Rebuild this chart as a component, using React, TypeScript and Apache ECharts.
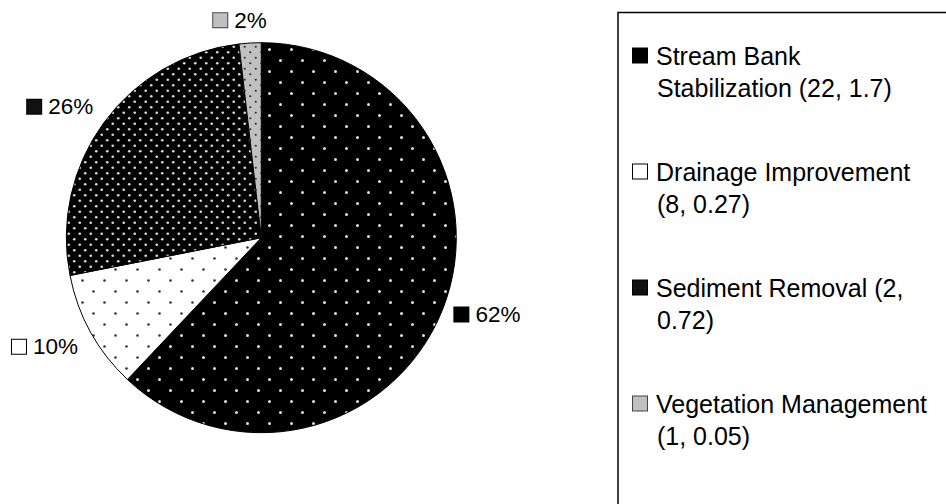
import React, { useEffect, useRef } from "react";
import * as echarts from "echarts";

// ---- data ----
const categories = [
  "Stream Bank Stabilization",
  "Drainage Improvement",
  "Sediment Removal",
  "Vegetation Management",
];
const projectCounts = [22, 8, 2, 1];
const costValues = [1.7, 0.27, 0.72, 0.05];

// ---- styles / layout ----
const FONT = '"Liberation Sans", Arial, Helvetica, sans-serif';
const CX = 261.3;
const CY = 237.7;
const R = 195;
const LABEL_GAP = 10;
const LABEL_NUDGE = [
  [2.7, -12.1],
  [-6.3, -6.9],
  [-8.2, 9.8],
  [-8.8, 0.2],
];
const ICON_FILL = ["#000000", "#ffffff", "#111111", "#c0c0c0"];
const ICON_BORDER = ["#000000", "#000000", "#000000", "#444444"];
const LEGEND_FONT_SIZE = 25;
const LEGEND_MAX_WIDTH = 280;

function makeTile(size: number, bg: string, dot: string, r: number) {
  const c = document.createElement("canvas");
  c.width = size;
  c.height = size;
  const ctx = c.getContext("2d")!;
  ctx.fillStyle = bg;
  ctx.fillRect(0, 0, size, size);
  ctx.fillStyle = dot;
  const q = size / 4;
  for (const [x, y] of [
    [q, q],
    [3 * q, 3 * q],
  ]) {
    ctx.beginPath();
    ctx.arc(x, y, r, 0, Math.PI * 2);
    ctx.fill();
  }
  return { image: c, repeat: "repeat", imageWidth: size, imageHeight: size };
}

function wrapText(text: string, maxWidth: number, font: string) {
  const ctx = document.createElement("canvas").getContext("2d")!;
  ctx.font = font;
  const words = text.split(" ");
  const lines: string[] = [];
  let cur = "";
  for (const w of words) {
    const test = cur ? cur + " " + w : w;
    if (cur && ctx.measureText(test).width > maxWidth) {
      lines.push(cur);
      cur = w;
    } else cur = test;
  }
  if (cur) lines.push(cur);
  return lines;
}

export default function App() {
  const ref = useRef<HTMLDivElement>(null);

  useEffect(() => {
    if (!ref.current) return;
    const chart = echarts.init(ref.current, undefined, { renderer: "svg" });

    const patterns = [
      makeTile(22, "#000000", "#e0e0e0", 1.5),
      makeTile(22, "#ffffff", "#333333", 1.3),
      makeTile(11, "#000000", "#d8d8d8", 1.35),
      makeTile(11, "#c0c0c0", "#333333", 1.1),
    ];

    const total = costValues.reduce((s, v) => s + v, 0);
    const midAngles: number[] = [];
    let acc = 0;
    costValues.forEach((v) => {
      midAngles.push(((acc + v / 2) / total) * Math.PI * 2);
      acc += v;
    });

    const legendTexts = categories.map(
      (c, i) => `${c} (${projectCounts[i]}, ${costValues[i]})`
    );
    const legendLines = legendTexts.map((t) =>
      wrapText(t, LEGEND_MAX_WIDTH, `${LEGEND_FONT_SIZE}px "Liberation Sans"`)
    );

    const iconRich: Record<string, any> = {};
    categories.forEach((_, i) => {
      iconRich["ic" + i] = {
        width: 14,
        height: 14,
        backgroundColor: ICON_FILL[i],
        borderColor: ICON_BORDER[i],
        borderWidth: 1,
      };
    });

    chart.setOption({
      animation: false,
      backgroundColor: "#ffffff",
      graphic: [
        {
          type: "rect",
          shape: { x: 618, y: 12.5, width: 400, height: 600 },
          style: { fill: "none", stroke: "#000", lineWidth: 1.5 },
          z: 0,
        },
      ],
      legend: {
        orient: "vertical",
        left: 628,
        top: 43,
        padding: 0,
        itemGap: 59,
        itemWidth: 0,
        itemHeight: 0,
        selectedMode: false,
        itemStyle: { color: "rgba(0,0,0,0)", borderWidth: 0 },
        data: categories,
        formatter: (name: string) => {
          const i = categories.indexOf(name);
          const lines = legendLines[i];
          let s = `{ic${i}|}{g|}{t|${lines[0]}}`;
          for (let k = 1; k < lines.length; k++) s += `\n{s|}{t|${lines[k]}}`;
          return s;
        },
        textStyle: {
          fontFamily: FONT,
          color: "#000",
          rich: {
            ...iconRich,
            g: { width: 9 },
            s: { width: 24 },
            t: {
              fontFamily: FONT,
              fontSize: LEGEND_FONT_SIZE,
              lineHeight: 32,
              color: "#000",
            },
          },
        },
      },
      series: [
        {
          type: "pie",
          center: [CX, CY],
          radius: R,
          startAngle: 90,
          clockwise: true,
          avoidLabelOverlap: false,
          emphasis: { disabled: true },
          itemStyle: { borderColor: "#000", borderWidth: 1 },
          labelLine: { show: false },
          label: {
            show: true,
            position: "outside",
            color: "#000",
            fontFamily: FONT,
            formatter: (p: any) =>
              `{ic${p.dataIndex}|}{g|}{t|${Math.round(p.percent)}%}`,
            rich: {
              ...iconRich,
              g: { width: 7 },
              t: { fontFamily: FONT, fontSize: 22.5, lineHeight: 26, color: "#000" },
            },
          },
          labelLayout: (p: any) => {
            const i = p.dataIndex;
            const a = midAngles[i];
            const ux = Math.sin(a);
            const uy = -Math.cos(a);
            const w = p.labelRect.width;
            const h = p.labelRect.height;
            const support = (Math.abs(ux) * w) / 2 + (Math.abs(uy) * h) / 2;
            const d = R + LABEL_GAP + support;
            return {
              x: CX + ux * d + LABEL_NUDGE[i][0],
              y: CY + uy * d + LABEL_NUDGE[i][1],
              align: "center",
              verticalAlign: "middle",
            };
          },
          data: categories.map((name, i) => ({
            name,
            value: costValues[i],
            itemStyle: { color: patterns[i] },
          })),
        },
      ],
    });

    return () => chart.dispose();
  }, []);

  return (
    <div
      ref={ref}
      style={{ position: "fixed", left: 0, top: 0, width: 946, height: 504, background: "#fff" }}
    />
  );
}
